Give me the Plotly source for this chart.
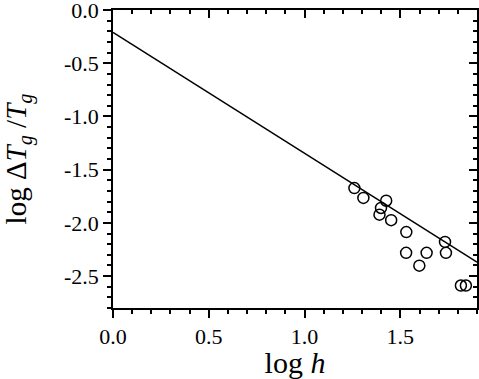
import plotly.graph_objects as go

# measured points (log h, log dTg/Tg)
log_h = [1.26, 1.307, 1.426, 1.399, 1.391, 1.452, 1.531, 1.530, 1.637, 1.599,
         1.733, 1.738, 1.816, 1.842]
log_dT = [-1.673, -1.766, -1.792, -1.860, -1.923, -1.975, -2.087, -2.282, -2.282,
          -2.402, -2.179, -2.282, -2.589, -2.589]

# fitted line end points
fit_x = [0.0, 1.9]
fit_y = [-0.21, -2.37]

x_ticks = [0.0, 0.5, 1.0, 1.5]
x_labels = ["0.0", "0.5", "1.0", "1.5"]
y_ticks = [0.0, -0.5, -1.0, -1.5, -2.0, -2.5]
y_labels = ["0.0", "-0.5", "-1.0", "-1.5", "-2.0", "-2.5"]

font = "Liberation Serif, Times New Roman, serif"

fig = go.Figure()
fig.add_trace(
    go.Scatter(
        x=fit_x, y=fit_y, mode="lines",
        line=dict(color="black", width=1.5), showlegend=False,
    )
)
fig.add_trace(
    go.Scatter(
        x=log_h, y=log_dT, mode="markers",
        marker=dict(symbol="circle-open", size=11, color="black",
                    line=dict(width=1.5, color="black")),
        showlegend=False,
    )
)
# invisible trace to create the mirrored (inward-tick) axes
fig.add_trace(
    go.Scatter(x=[None], y=[None], xaxis="x2", yaxis="y2", showlegend=False)
)

axis_common = dict(
    showgrid=False, zeroline=False, showline=True, linecolor="black",
    linewidth=1.5, tickcolor="black", tickwidth=1.5, automargin=False,
)
minor_out = dict(dtick=0.1, tick0=0, ticks="outside", ticklen=4,
                 tickcolor="black", tickwidth=1.5)
minor_in = dict(dtick=0.1, tick0=0, ticks="inside", ticklen=4,
                tickcolor="black", tickwidth=1.5)

fig.update_layout(
    width=479, height=379,
    margin=dict(l=113, r=2, t=10, b=71),
    plot_bgcolor="white", paper_bgcolor="white",
    font=dict(family=font, color="black", size=22),
    xaxis=dict(
        range=[0, 1.9], tickmode="array", tickvals=x_ticks, ticktext=x_labels,
        ticks="outside", ticklen=8, minor=minor_out, ticklabeloverflow="allow",
        title=dict(text="log <i>h</i>", font=dict(size=30), standoff=0),
        **axis_common,
    ),
    yaxis=dict(
        range=[-2.8, 0], tickmode="array", tickvals=y_ticks, ticktext=y_labels,
        ticks="outside", ticklen=8, minor=minor_out, ticklabeloverflow="allow",
        title=dict(text="log Δ<i>T</i><sub><i>g</i></sub> /<i>T</i><sub><i>g</i></sub>",
                   font=dict(size=29), standoff=30),
        **axis_common,
    ),
    xaxis2=dict(
        overlaying="x", side="top", range=[0, 1.9], tickmode="array",
        tickvals=x_ticks, ticks="inside", ticklen=8, showticklabels=False,
        minor=minor_in, **axis_common,
    ),
    yaxis2=dict(
        overlaying="y", side="right", range=[-2.8, 0], tickmode="array",
        tickvals=y_ticks, ticks="inside", ticklen=8, showticklabels=False,
        minor=minor_in, **axis_common,
    ),
)

fig.write_html(
    "out.html",
    config={"displayModeBar": False},
    post_script="document.body.style.margin='0';document.body.style.overflow='hidden';",
)
